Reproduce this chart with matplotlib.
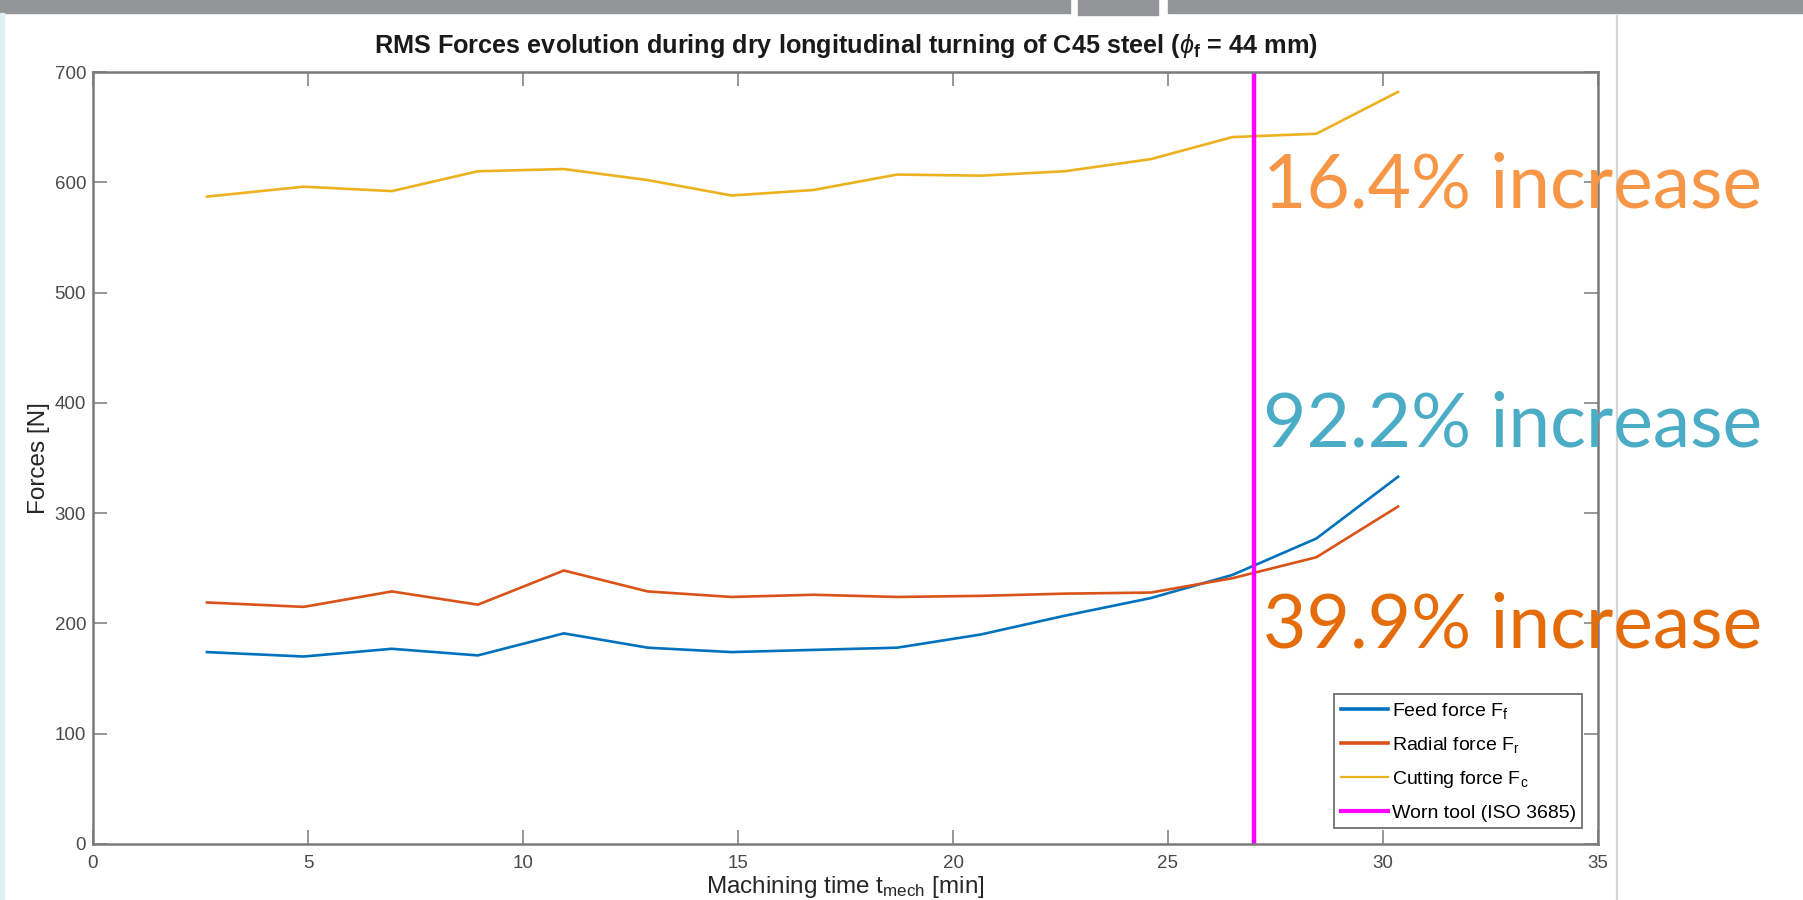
import matplotlib
matplotlib.use("Agg")
import matplotlib.pyplot as plt
from matplotlib.patches import Rectangle
from matplotlib.lines import Line2D

plt.rcParams['font.family'] = ['Liberation Sans', 'DejaVu Sans']
plt.rcParams['mathtext.fontset'] = 'custom'
plt.rcParams['mathtext.rm'] = 'Liberation Sans'
plt.rcParams['mathtext.it'] = 'Liberation Sans:italic'
plt.rcParams['mathtext.bf'] = 'Liberation Sans:bold'

# ---- data ----
time_min = [2.65, 4.9, 6.95, 8.95, 10.95, 12.9, 14.85, 16.75, 18.7, 20.65, 22.6, 24.6, 26.5, 28.45, 30.35]
feed_force = [174, 170, 177, 171, 191, 178, 174, 176, 178, 190, 207, 223, 244, 277, 333]
radial_force = [219, 215, 229, 217, 248, 229, 224, 226, 224, 225, 227, 228, 241, 260, 306]
cutting_force = [587, 596, 592, 610, 612, 602, 588, 593, 607, 606, 610, 621, 641, 644, 682]
worn_tool_time = 27

series_labels = [r'Feed force F$_{\mathregular{f}}$', r'Radial force F$_{\mathregular{r}}$',
                 r'Cutting force F$_{\mathregular{c}}$', 'Worn tool (ISO 3685)']
annotations = ['16.4% increase', '92.2% increase', '39.9% increase']
x_ticks = [0, 5, 10, 15, 20, 25, 30, 35]
y_ticks = [0, 100, 200, 300, 400, 500, 600, 700]

c_feed = '#0072BD'
c_rad = '#D95319'
c_cut = '#EDB120'
c_worn = '#FF00FF'
ann_colors = ['#F79646', '#4BACC6', '#E46C0A']

W, H = 1803, 900
fig = plt.figure(figsize=(W / 100, H / 100), dpi=100)

# slide decorations
fig.patches.append(Rectangle((0, 1 - 13 / H), 1070 / W, 13 / H, transform=fig.transFigure,
                             color='#939598', zorder=0))
fig.patches.append(Rectangle((1078 / W, 1 - 15 / H), 80 / W, 15 / H, transform=fig.transFigure,
                             color='#939598', zorder=0))
fig.patches.append(Rectangle((1168 / W, 1 - 13 / H), (W - 1168) / W, 13 / H, transform=fig.transFigure,
                             color='#939598', zorder=0))
fig.patches.append(Rectangle((0, 0), 4 / W, 1 - 13 / H, transform=fig.transFigure,
                             color='#DDF0F5', zorder=0))
fig.lines.append(Line2D([1617 / W, 1617 / W], [0, 1 - 16 / H], transform=fig.transFigure,
                        color='#D6D6D6', lw=1.6, zorder=0))

ax = fig.add_axes([93 / W, 1 - 844 / H, (1598 - 93) / W, (844 - 72) / H])

ax.plot(time_min, feed_force, color=c_feed, lw=1.9, label=series_labels[0])
ax.plot(time_min, radial_force, color=c_rad, lw=1.9, label=series_labels[1])
ax.plot(time_min, cutting_force, color=c_cut, lw=1.9, label=series_labels[2])
ax.axvline(worn_tool_time, color=c_worn, lw=3.2, label=series_labels[3])

ax.set_xlim(0, 35)
ax.set_ylim(0, 700)
ax.set_xticks(x_ticks)
ax.set_yticks(y_ticks)
ax.tick_params(direction='in', length=10, width=1.1, colors='#7a7a7a',
               labelcolor='#4a4a4a', labelsize=13.5, top=True, right=True)
ax.tick_params(axis='x', pad=8)
ax.tick_params(axis='y', pad=5)
for s in ax.spines.values():
    s.set_color('#7a7a7a')
    s.set_linewidth(1.8)

ax.set_xlabel(r'Machining time t$_{\mathregular{mech}}$ [min]', fontsize=17.5, color='#262626', labelpad=1)
ax.set_ylabel('Forces [N]', fontsize=17.5, color='#262626', labelpad=3)
ax.set_title(r'RMS Forces evolution during dry longitudinal turning of C45 steel ($\phi_{\mathbf{f}}$ = 44 mm)',
             fontsize=18.2, fontweight='bold', color='#1a1a1a', pad=14)

leg = ax.legend(loc='lower right', fontsize=14, frameon=True, fancybox=False, framealpha=1,
                edgecolor='#7a7a7a', borderaxespad=0.8, handlelength=2.4, handletextpad=0.2,
                labelspacing=0.72, borderpad=0.35)
leg.get_frame().set_linewidth(1.4)
for h, lw in zip(leg.get_lines(), [2.6, 2.6, 1.6, 3.0]):
    h.set_linewidth(lw)

baselines = [208, 447, 647]
for txt, col, b in zip(annotations, ann_colors, baselines):
    fig.text(1263 / W, 1 - b / H, txt, color=col, fontsize=54, family='Lato',
             va='baseline', ha='left', zorder=10)

fig.savefig('out.png', dpi=100)
